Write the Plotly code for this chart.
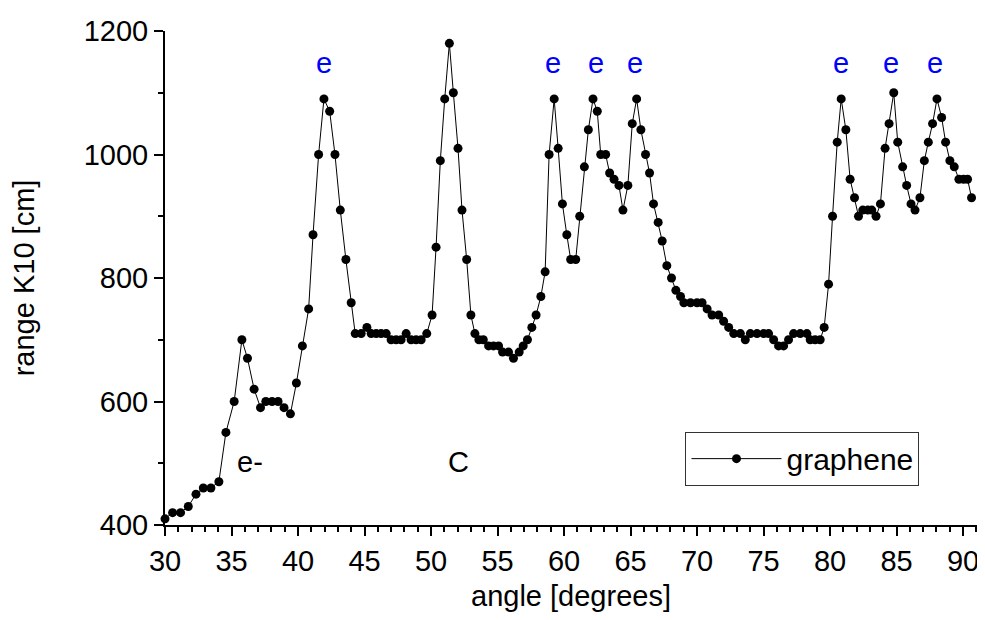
import plotly.graph_objects as go

angle = [30.0, 30.57, 31.17, 31.75, 32.33, 32.88, 33.45, 34.05, 34.58, 35.2,
         35.78, 36.2, 36.7, 37.18, 37.58, 38.05, 38.5, 38.95, 39.43, 39.88,
         40.33, 40.8, 41.13, 41.55, 41.95, 42.38, 42.78, 43.18, 43.6, 44.0,
         44.3, 44.75, 45.18, 45.5, 45.88, 46.25, 46.63, 47.0, 47.38, 47.75,
         48.13, 48.5, 48.88, 49.26, 49.68, 50.08, 50.38, 50.7, 51.03, 51.38,
         51.68, 52.03, 52.33, 52.68, 53.0, 53.3, 53.6, 53.93, 54.33, 54.7,
         55.08, 55.38, 55.83, 56.2, 56.63, 56.93, 57.25, 57.58, 57.9, 58.26,
         58.58, 58.88, 59.26, 59.56, 59.88, 60.21, 60.5, 60.88, 61.18, 61.53,
         61.83, 62.18, 62.5, 62.76, 63.13, 63.43, 63.76, 64.13, 64.43, 64.8,
         65.13, 65.46, 65.78, 66.13, 66.43, 66.73, 67.08, 67.38, 67.73, 68.08,
         68.41, 68.76, 69.01, 69.51, 70.0, 70.38, 70.76, 71.13, 71.63, 72.0,
         72.38, 72.76, 73.26, 73.63, 74.01, 74.51, 75.01, 75.38, 75.76, 76.13,
         76.51, 76.88, 77.26, 77.76, 78.26, 78.51, 78.88, 79.26, 79.56, 79.89,
         80.19, 80.54, 80.84, 81.19, 81.51, 81.84, 82.14, 82.46, 82.84, 83.14,
         83.46, 83.79, 84.14, 84.44, 84.79, 85.09, 85.46, 85.76, 86.09, 86.39,
         86.76, 87.09, 87.39, 87.71, 88.04, 88.39, 88.69, 89.01, 89.34, 89.69,
         90.04, 90.34, 90.64]

range_k10 = [410, 420, 420, 430, 450, 460, 460, 470, 550, 600,
             700, 670, 620, 590, 600, 600, 600, 590, 580, 630,
             690, 750, 870, 1000, 1090, 1070, 1000, 910, 830, 760,
             710, 710, 720, 710, 710, 710, 710, 700, 700, 700,
             710, 700, 700, 700, 710, 740, 850, 990, 1090, 1180,
             1100, 1010, 910, 830, 740, 710, 700, 700, 690, 690,
             690, 680, 680, 670, 680, 690, 700, 720, 740, 770,
             810, 1000, 1090, 1010, 920, 870, 830, 830, 900, 980,
             1040, 1090, 1070, 1000, 1000, 970, 960, 950, 910, 950,
             1050, 1090, 1040, 1000, 970, 920, 890, 860, 820, 800,
             780, 770, 760, 760, 760, 760, 750, 740, 740, 730,
             720, 710, 710, 700, 710, 710, 710, 710, 700, 690,
             690, 700, 710, 710, 710, 700, 700, 700, 720, 790,
             900, 1020, 1090, 1040, 960, 930, 900, 910, 910, 910,
             900, 920, 1010, 1050, 1100, 1020, 980, 950, 920, 910,
             930, 990, 1020, 1050, 1090, 1060, 1020, 990, 980, 960,
             960, 960, 930]

series_name = "graphene"

# labels: (x, y, text, colour)
label_x = [41.95, 59.2, 62.38, 65.35, 80.8, 84.6, 87.9, 36.4, 52.1]
label_y = [1148, 1148, 1148, 1148, 1148, 1148, 1148, 502, 502]
label_text = ["e", "e", "e", "e", "e", "e", "e", "e-", "C"]
label_color = ["#0000ff"] * 7 + ["#000000", "#000000"]

FONT = "Liberation Sans, Arial, sans-serif"

fig = go.Figure()
fig.add_trace(go.Scatter(
    x=angle, y=range_k10, name=series_name, mode="lines+markers",
    line=dict(color="black", width=1),
    marker=dict(color="black", size=9),
    cliponaxis=False,
))

for x, y, t, c in zip(label_x, label_y, label_text, label_color):
    fig.add_annotation(x=x, y=y, text=t, showarrow=False,
                       font=dict(family=FONT, size=29, color=c),
                       xanchor="center", yanchor="middle")

# page body has an 8px margin, so the figure is sized/offset to compensate
fig.update_layout(
    width=977, height=612,
    margin=dict(l=157, r=6, t=23, b=95),
    paper_bgcolor="white", plot_bgcolor="white",
    font=dict(family=FONT, size=29, color="black"),
    showlegend=True,
    legend=dict(x=0.641, y=0.189, xanchor="left", yanchor="top",
                bordercolor="#333333", borderwidth=1, bgcolor="white",
                font=dict(size=30), itemwidth=90, tracegroupgap=0),
)
fig.update_xaxes(
    range=[30, 91.05], showline=True, linecolor="black", linewidth=2,
    ticks="outside", ticklen=9, tickwidth=1.5, tickcolor="black",
    dtick=5, tick0=30, showgrid=False, zeroline=False, mirror=False,
    minor=dict(ticks="outside", ticklen=5, tickwidth=1.5, dtick=1, tickcolor="black", showgrid=False),
    title=dict(text="angle [degrees]", standoff=10, font=dict(size=29)),
    tickfont=dict(size=29),
)
fig.update_yaxes(
    range=[400, 1200], showline=True, linecolor="black", linewidth=2,
    ticks="outside", ticklen=9, tickwidth=1.5, tickcolor="black",
    dtick=200, tick0=400, showgrid=False, zeroline=False, mirror=False,
    minor=dict(ticks="outside", ticklen=5, tickwidth=1.5, dtick=100, tickcolor="black", showgrid=False),
    title=dict(text="range K10 [cm]", standoff=45, font=dict(size=29)),
    tickfont=dict(size=29),
)

fig.write_html("out.html")
